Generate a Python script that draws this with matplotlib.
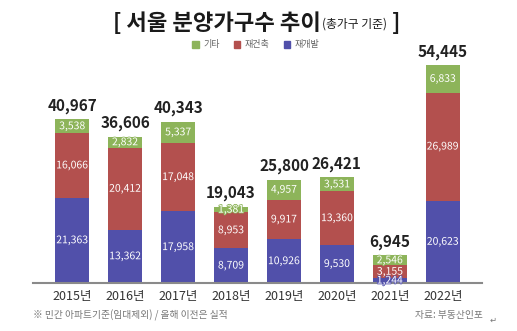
import matplotlib
matplotlib.use("Agg")
import matplotlib.pyplot as plt
import matplotlib.patheffects as pe
from matplotlib.patches import Patch
import numpy as np

plt.rcParams['font.family'] = ['Noto Sans CJK KR', 'DejaVu Sans']

# data
years = ['2015년', '2016년', '2017년', '2018년', '2019년', '2020년', '2021년', '2022년']
redevelop = [21363, 13362, 17958, 8709, 10926, 9530, 1244, 20623]   # 재개발
rebuild = [16066, 20412, 17048, 8953, 9917, 13360, 3155, 26989]     # 재건축
other = [3538, 2832, 5337, 1381, 4957, 3531, 2546, 6833]            # 기타
totals = [40967, 36606, 40343, 19043, 25800, 26421, 6945, 54445]

c_blue = '#5150aa'
c_red = '#b3504e'
c_green = '#8db45a'

fig = plt.figure(figsize=(5.17, 3.31), dpi=100)
ax = fig.add_axes([33 / 517, 48 / 331, 449 / 517, 243 / 331])

x = np.arange(len(years))
w = 0.64
blue = np.array(redevelop)
red = np.array(rebuild)
green = np.array(other)

ax.bar(x, blue, w, color=c_blue)
ax.bar(x, red, w, bottom=blue, color=c_red)
ax.bar(x, green, w, bottom=blue + red, color=c_green)


def seg_label(xi, y, val, col):
    ax.text(xi, y, f'{val:,}', ha='center', va='center', color='white',
            fontsize=7.5,
            path_effects=[pe.withStroke(linewidth=1.2, foreground=col)])


for i in range(len(years)):
    seg_label(x[i], blue[i] / 2, blue[i], c_blue)
    seg_label(x[i], blue[i] + red[i] / 2, red[i], c_red)
    seg_label(x[i], blue[i] + red[i] + green[i] / 2, green[i], c_green)
    ax.annotate(f'{totals[i]:,}', (x[i], totals[i]), xytext=(0, 4),
                textcoords='offset points', ha='center', va='bottom',
                fontsize=11, fontweight='bold', color='#222222')

ax.set_xlim(-0.74, 7.74)
ax.set_ylim(0, 60750)
ax.set_yticks([])
ax.set_xticks(x)
ax.set_xticklabels(years, fontsize=9, color='#333333')
ax.tick_params(axis='x', length=0, pad=5)
for s in ['top', 'left', 'right']:
    ax.spines[s].set_visible(False)
ax.spines['bottom'].set_color('#8a8a8a')
ax.spines['bottom'].set_linewidth(1.5)

# title built from pieces
t1 = fig.text(113 / 517, 1 - 24 / 331, '[ 서울 분양가구수 추이', fontsize=16,
              fontweight='bold', color='#1a1a1a', ha='left', va='center')
t2 = ax.annotate('(총가구 기준)', xy=(1, 0.5), xycoords=t1, xytext=(1, 0),
                 textcoords='offset points', ha='left', va='center',
                 fontsize=8.5, color='#1a1a1a', annotation_clip=False)
ax.annotate(' ]', xy=(1, 0.5), xycoords=t2, ha='left', va='center',
            fontsize=16, fontweight='bold', color='#1a1a1a',
            annotation_clip=False)

handles = [Patch(color=c_green), Patch(color=c_red), Patch(color=c_blue)]
fig.legend(handles, ['기타', '재건축', '재개발'], loc='center',
           bbox_to_anchor=(256 / 517, 1 - 45 / 331), ncol=3, frameon=False,
           fontsize=6.5, handlelength=0.7, handleheight=0.7,
           handletextpad=0.5, columnspacing=1.6, labelcolor='#666666')

fig.text(33 / 517, 1 - 315 / 331, '※ 민간 아파트기준(임대제외) / 올해 이전은 실적',
         fontsize=7, color='#777777', ha='left', va='center')
fig.text(483 / 517, 1 - 315 / 331, '자료: 부동산인포', fontsize=7,
         color='#777777', ha='right', va='center')
fig.text(490 / 517, 1 - 320 / 331, '↵', fontsize=6, color='#777777',
         ha='left', va='center')

fig.savefig('out.png', dpi=100, facecolor='white')
